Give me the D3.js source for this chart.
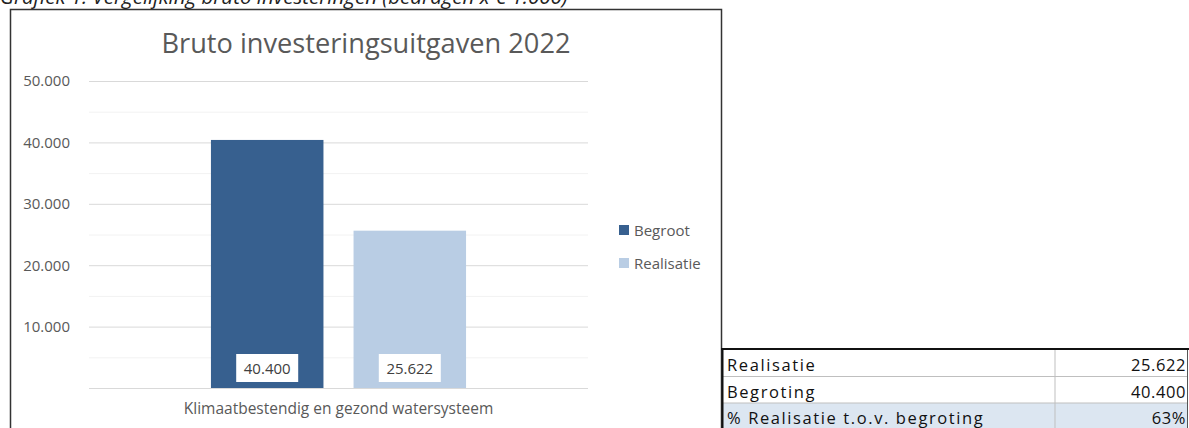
<!DOCTYPE html>
<html>
<head>
<meta charset="utf-8">
<script src="https://cdn.jsdelivr.net/npm/d3@7"></script>
<style>
  body { margin: 0; background: #fff; }
  svg text { font-family: "Open Sans", "Noto Sans", sans-serif; }
</style>
</head>
<body>
<div class="canvas"></div>
<script>
// ---- DATA --- //
const categories = ['Klimaatbestendig en gezond watersysteem'];
const series = ['Begroot', 'Realisatie'];
const values = [40400, 25622];
const yTicks = [10000, 20000, 30000, 40000, 50000];
const minorTicks = [5000, 15000, 25000, 35000, 45000];
const tableLabels = ['Realisatie', 'Begroting', '% Realisatie t.o.v. begroting'];
const tableValues = ['25.622', '40.400', '63%'];

const colors = ['#37608f', '#b9cde4'];

// ---- SETUP --- //
const width = 1189, height = 428;
const plot = { left: 89, right: 588, top: 81, bottom: 388 };

const nl = d3.formatLocale({ decimal: ',', thousands: '.', grouping: [3], currency: ['€', ''] });
const fmt = nl.format(',.0f');

const svg = d3.select('.canvas')
    .append('svg')
    .attr('width', width)
    .attr('height', height);

svg.append('rect').attr('width', width).attr('height', height).attr('fill', '#fff');

// caption above the frame, mostly cut off (as in the source)
svg.append('text')
    .attr('x', 0)
    .attr('y', 4)
    .attr('font-size', 20.5)
    .attr('font-style', 'italic')
    .attr('fill', '#222')
    .text('Grafiek 1: Vergelijking bruto investeringen (bedragen x € 1.000)');

// chart frame
svg.append('rect')
    .attr('x', 10.5).attr('y', 9.5)
    .attr('width', 711).attr('height', 440)
    .attr('fill', '#fff')
    .attr('stroke', '#333')
    .attr('stroke-width', 1.5);

// ---- SCALES / AXES --- //
const y = d3.scaleLinear().domain([0, 50000]).range([plot.bottom, plot.top]);
const x0 = d3.scaleBand().domain(categories).range([plot.left, plot.right]).paddingOuter(0.478);
const x1 = d3.scaleBand().domain(series).range([0, x0.bandwidth()]).paddingInner(0.211);

const graph = svg.append('g');

// minor gridlines
graph.append('g')
    .attr('transform', `translate(${plot.left},0)`)
    .call(d3.axisLeft(y).tickValues(minorTicks).tickSize(-(plot.right - plot.left)).tickFormat(''))
    .call(g => g.select('.domain').remove())
    .call(g => g.selectAll('line').attr('stroke', '#f2f2f2'));

// major gridlines + labels
graph.append('g')
    .attr('transform', `translate(${plot.left},0)`)
    .call(d3.axisLeft(y).tickValues([0].concat(yTicks)).tickSize(-(plot.right - plot.left)).tickPadding(19).tickFormat(d => d === 0 ? '' : fmt(d)))
    .call(g => g.select('.domain').remove())
    .call(g => g.selectAll('line').attr('stroke', '#d9d9d9'))
    .call(g => g.selectAll('text').attr('font-size', 15).attr('fill', '#595959')
        .style('font-family', '"Open Sans", sans-serif'));

// category axis label
graph.append('g')
    .attr('transform', `translate(0,${plot.bottom})`)
    .call(d3.axisBottom(x0).tickSize(0).tickPadding(15))
    .call(g => g.select('.domain').remove())
    .call(g => g.selectAll('text').attr('font-size', 15.5).attr('fill', '#595959')
        .style('font-family', '"Open Sans", sans-serif'));

// ---- BARS --- //
const rows = series.map((s, i) => ({ s, cat: categories[0], v: values[i], c: colors[i] }));

const bars = graph.selectAll('g.bar').data(rows).enter().append('g').attr('class', 'bar');

bars.append('rect')
    .attr('x', d => x0(d.cat) + x1(d.s))
    .attr('y', d => y(d.v))
    .attr('width', x1.bandwidth())
    .attr('height', d => y(0) - y(d.v))
    .attr('fill', d => d.c);

bars.append('rect')
    .attr('x', d => x0(d.cat) + x1(d.s) + x1.bandwidth() / 2 - 31)
    .attr('y', plot.bottom - 34)
    .attr('width', 62)
    .attr('height', 28)
    .attr('fill', '#fff');

bars.append('text')
    .attr('x', d => x0(d.cat) + x1(d.s) + x1.bandwidth() / 2)
    .attr('y', plot.bottom - 14)
    .attr('text-anchor', 'middle')
    .attr('font-size', 15)
    .attr('fill', '#404040')
    .text(d => fmt(d.v));

// ---- TITLE --- //
svg.append('text')
    .attr('x', 366)
    .attr('y', 53)
    .attr('text-anchor', 'middle')
    .attr('font-size', 27.2)
    .attr('fill', '#595959')
    .text('Bruto investeringsuitgaven 2022');

// ---- LEGEND --- //
const legend = svg.selectAll('g.legend').data(rows).enter().append('g')
    .attr('class', 'legend')
    .attr('transform', (d, i) => `translate(619,${225 + i * 33})`);

legend.append('rect').attr('width', 10).attr('height', 10).attr('fill', d => d.c);
legend.append('text')
    .attr('x', 15).attr('y', 10.5)
    .attr('font-size', 15)
    .attr('fill', '#595959')
    .text(d => d.s);

// ---- TABLE --- //
const table = svg.append('g');
const rowTop = 350, rowH = 26.5, tLeft = 723, tRight = 1187, colX = 1055;

table.append('rect')
    .attr('x', tLeft).attr('y', rowTop + 2 * rowH)
    .attr('width', tRight - tLeft).attr('height', rowH + 5)
    .attr('fill', '#dce6f1');

tableLabels.forEach((lbl, i) => {
    if (i > 0) {
        table.append('line')
            .attr('x1', tLeft).attr('x2', tRight)
            .attr('y1', rowTop + i * rowH).attr('y2', rowTop + i * rowH)
            .attr('stroke', '#bfbfbf');
    }
    table.append('text')
        .attr('x', tLeft + 4)
        .attr('y', rowTop + i * rowH + 21)
        .attr('font-size', 16.5)
        .attr('letter-spacing', 1.6)
        .attr('fill', '#111')
        .text(lbl);
    table.append('text')
        .attr('x', tRight - 1)
        .attr('y', rowTop + i * rowH + 21)
        .attr('text-anchor', 'end')
        .attr('font-size', 16.5)
        .attr('letter-spacing', 0.6)
        .attr('fill', '#111')
        .text(tableValues[i]);
});

table.append('line')
    .attr('x1', colX).attr('x2', colX)
    .attr('y1', rowTop).attr('y2', height)
    .attr('stroke', '#bfbfbf');
table.append('line')
    .attr('x1', tRight + 0.5).attr('x2', tRight + 0.5)
    .attr('y1', rowTop).attr('y2', height)
    .attr('stroke', '#555');
table.append('line')
    .attr('x1', 721).attr('x2', width)
    .attr('y1', 349).attr('y2', 349)
    .attr('stroke', '#111')
    .attr('stroke-width', 2);
table.append('line')
    .attr('x1', 722.5).attr('x2', 722.5)
    .attr('y1', 349).attr('y2', height)
    .attr('stroke', '#111')
    .attr('stroke-width', 2);
</script>
</body>
</html>
